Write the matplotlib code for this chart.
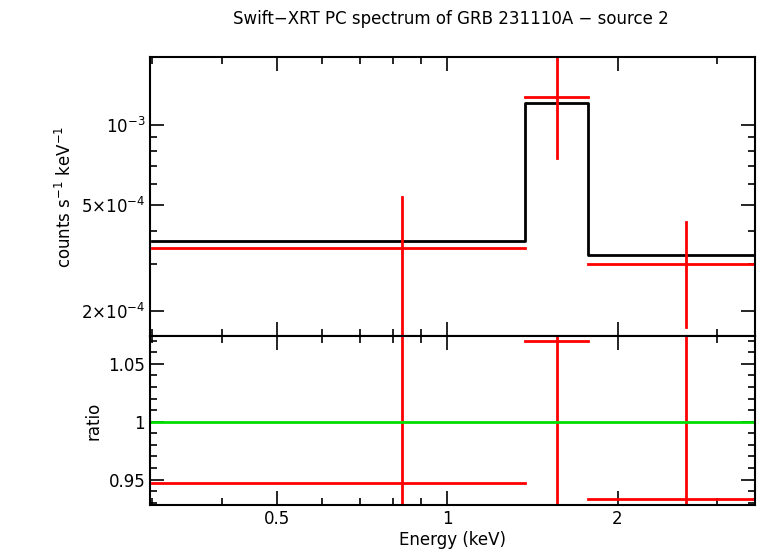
import matplotlib
matplotlib.use("Agg")
import matplotlib.pyplot as plt
from matplotlib.ticker import FixedLocator, NullFormatter, FixedFormatter

# energy bins (keV)
e_lo = [0.30, 1.374, 1.776]
e_hi = [1.374, 1.776, 3.50]
e_pt = [0.832, 1.566, 2.64]

# data (counts/s/keV)
rate = [3.45e-4, 1.27e-3, 3.0e-4]
rate_up = [5.36e-4, 3.0e-3, 4.31e-4]
rate_dn = [1.0e-5, 7.52e-4, 1.74e-4]

# model
model = [3.66e-4, 1.21e-3, 3.25e-4]

# ratio
ratio = [0.9466, 1.0698, 0.9328]
ratio_up = [1.5, 1.5, 1.5]
ratio_dn = [0.5, 0.5, 0.5]

fig = plt.figure(figsize=(7.58, 5.56), dpi=100)
ax1 = fig.add_axes([0.198, 0.3957, 0.798, 0.5018])
ax2 = fig.add_axes([0.198, 0.0917, 0.798, 0.304], sharex=ax1)

xmin, xmax = 0.298, 3.5

# model step
mx, my = [], []
for lo, hi, m in zip(e_lo, e_hi, model):
    mx += [lo, hi]
    my += [m, m]
ax1.plot(mx, my, color="black", lw=2)

for lo, hi, p, r, u, d in zip(e_lo, e_hi, e_pt, rate, rate_up, rate_dn):
    ax1.plot([lo, hi], [r, r], color="red", lw=2)
    ax1.plot([p, p], [d, u], color="red", lw=2)

for lo, hi, p, r, u, d in zip(e_lo, e_hi, e_pt, ratio, ratio_up, ratio_dn):
    ax2.plot([lo, hi], [r, r], color="red", lw=2)
    ax2.plot([p, p], [d, u], color="red", lw=2)
ax2.axhline(1.0, color="#00dd00", lw=2)

ax1.set_xscale("log")
ax1.set_yscale("log")
ax1.set_xlim(xmin, xmax)
ax1.set_ylim(1.61e-4, 1.80e-3)
ax2.set_ylim(0.928, 1.074)

ax1.yaxis.set_major_locator(FixedLocator([2e-4, 5e-4, 1e-3]))
ax1.yaxis.set_major_formatter(FixedFormatter(["2×10$^{-4}$", "5×10$^{-4}$", "10$^{-3}$"]))
ax1.yaxis.set_minor_locator(FixedLocator([3e-4, 4e-4, 6e-4, 7e-4, 8e-4, 9e-4]))
ax1.yaxis.set_minor_formatter(NullFormatter())

ax2.xaxis.set_major_locator(FixedLocator([0.5, 1, 2]))
ax2.xaxis.set_major_formatter(FixedFormatter(["0.5", "1", "2"]))
ax2.xaxis.set_minor_locator(FixedLocator([0.3, 0.4, 0.6, 0.7, 0.8, 0.9, 3]))
ax2.xaxis.set_minor_formatter(NullFormatter())
plt.setp(ax1.get_xticklabels(), visible=False)

ax2.yaxis.set_major_locator(FixedLocator([0.95, 1.0, 1.05]))
ax2.yaxis.set_major_formatter(FixedFormatter(["0.95", "1", "1.05"]))
ax2.yaxis.set_minor_locator(FixedLocator([0.93, 0.94, 0.96, 0.97, 0.98, 0.99, 1.01, 1.02, 1.03, 1.04, 1.06, 1.07]))

for ax in (ax1, ax2):
    ax.tick_params(which="both", direction="in", top=True, right=True, labelsize=12, width=1.2)
    ax.tick_params(which="major", length=10)
    ax.tick_params(which="minor", length=5)
    for s in ax.spines.values():
        s.set_linewidth(1.5)

ax1.set_ylabel("counts s$^{-1}$ keV$^{-1}$", fontsize=12)
ax2.set_ylabel("ratio", fontsize=12)
ax2.set_xlabel("Energy (keV)", fontsize=12, labelpad=2)
fig.text(0.595, 0.965, "Swift\u2212XRT PC spectrum of GRB 231110A \u2212 source 2",
         ha="center", va="center", fontsize=12)

fig.savefig("out.png", dpi=100)
